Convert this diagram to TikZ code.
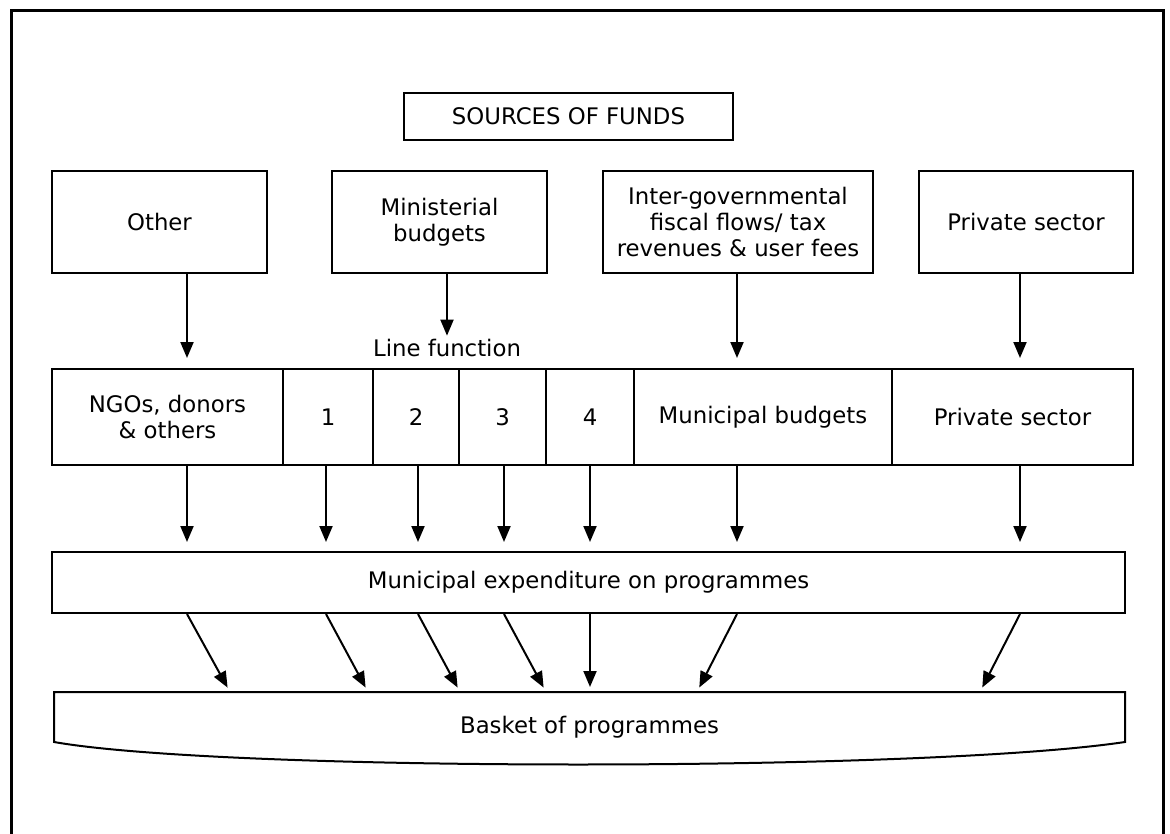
\documentclass[tikz,border=0pt]{standalone}
\usepackage{fontspec}
\setmainfont{DejaVu Sans}
\usetikzlibrary{arrows.meta, positioning}

\begin{document}
\begin{tikzpicture}[x=1pt, y=-1pt, >={Triangle[length=16pt,width=13pt]}, font=\fontsize{22.8}{26}\selectfont]

\tikzstyle{block} = [draw, shape=rectangle, line width=2pt, align=center, inner sep=2pt]
\tikzstyle{source} = [block, minimum height=102pt]
\tikzstyle{cell} = [block, minimum height=96pt, outer sep=0pt]
\tikzstyle{flow} = [->, line width=2pt]

\useasboundingbox (0,0) rectangle (1170,834);
\draw[line width=3pt] (11,11) rectangle (1163,860);

%Creating Blocks
\node[block, minimum width=329pt, minimum height=47pt] at (568.5,116.5) (sources) {SOURCES OF FUNDS};
\node[source, minimum width=215pt] at (159.5,222) (other) {Other};
\node[source, minimum width=215pt] at (439.5,222) (minist) {Ministerial\\budgets};
\node[source, minimum width=270pt] at (738,222.5) (inter) {Inter-governmental\\fiscal flows/ tax\\revenues \& user fees};
\node[source, minimum width=214pt] at (1026,222) (privtop) {Private sector};
\node at (447,348) (linefn) {Line function};

%Line function row
\node[cell, minimum width=231pt] at (167.5,417) (ngo) {NGOs, donors\\\& others};
\node[cell, minimum width=90pt, right=0pt of ngo] (one) {1};
\node[cell, minimum width=86pt, right=0pt of one] (two) {2};
\node[cell, minimum width=87pt, right=0pt of two] (three) {3};
\node[cell, minimum width=88pt, right=0pt of three] (four) {4};
\node[cell, minimum width=258pt, right=0pt of four] (mun) {Municipal budgets};
\node[cell, minimum width=241pt, right=0pt of mun] (priv) {Private sector};

\node[block, minimum width=1073pt, minimum height=61pt] at (588.5,582.5) (expend) {Municipal expenditure on programmes};

\node[minimum width=1071pt, minimum height=50pt, inner sep=0pt, outer sep=0pt, anchor=north] at (589.5,692) (basket) {};
\draw[line width=2pt] (basket.north west) -- (basket.north east) -- (basket.south east)
  .. controls +(-200,30) and +(170,30) .. (basket.south west) -- cycle;
\node at ([yshift=-10pt]basket.center) (baskettext) {Basket of programmes};

%Arrow columns
\coordinate (colngo) at (187,0);
\coordinate (colone) at (326,0);
\coordinate (coltwo) at (418,0);
\coordinate (colthree) at (504,0);
\coordinate (colfour) at (590,0);
\coordinate (colmun) at (737,0);
\coordinate (colpriv) at (1020,0);

\coordinate (inngo) at (230,0);
\coordinate (inone) at (368,0);
\coordinate (intwo) at (460,0);
\coordinate (inthree) at (546,0);
\coordinate (infour) at (590,0);
\coordinate (inmun) at (697,0);
\coordinate (inpriv) at (980,0);

%Conecting Blocks
\draw[flow, shorten >=11pt] (other.south -| colngo) -- (ngo.north -| colngo);
\draw[flow] (minist.south -| linefn) -- (linefn.north);
\draw[flow, shorten >=11pt] (inter.south -| colmun) -- (mun.north -| colmun);
\draw[flow, shorten >=11pt] (privtop.south -| colpriv) -- (priv.north -| colpriv);

\foreach \c/\col in {ngo/colngo, one/colone, two/coltwo, three/colthree, four/colfour, mun/colmun, priv/colpriv}
  \draw[flow, shorten >=9pt] (\c.south -| \col) -- (expend.north -| \col);

\foreach \col/\dst in {colngo/inngo, colone/inone, coltwo/intwo, colthree/inthree, colfour/infour, colmun/inmun, colpriv/inpriv}
  \draw[flow, shorten >=5pt] (expend.south -| \col) -- (basket.north -| \dst);

\end{tikzpicture}
\end{document}
